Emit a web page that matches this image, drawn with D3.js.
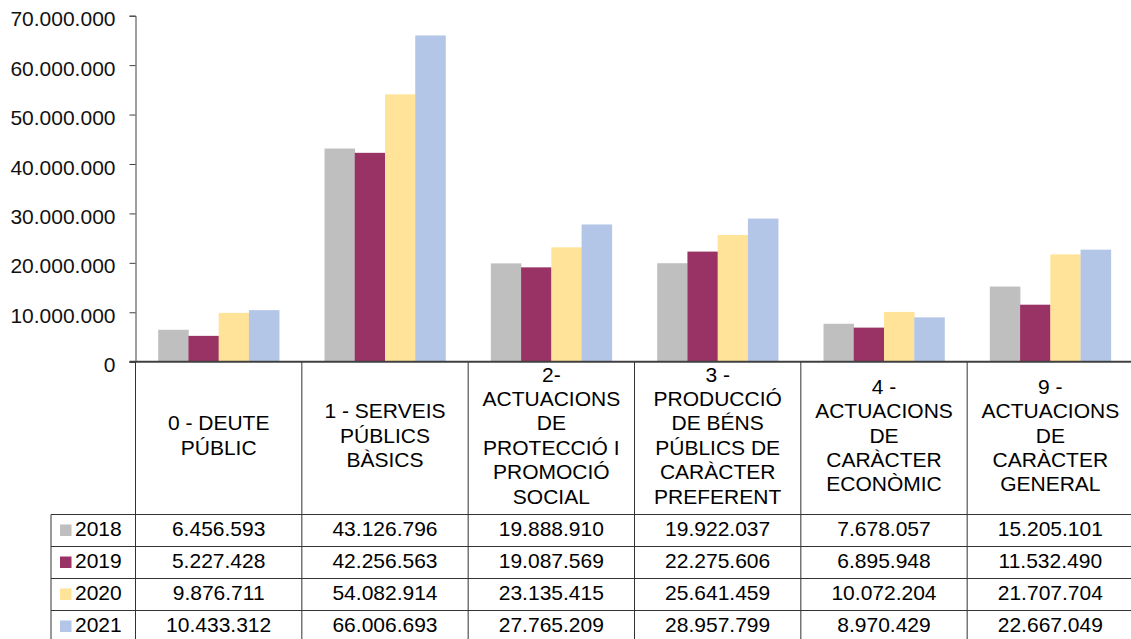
<!DOCTYPE html>
<html>
<head>
<meta charset="utf-8">
<script src="https://cdn.jsdelivr.net/npm/d3@7"></script>
<style>
  body { margin: 0; background: #fff; }
  svg { font-family: "Liberation Sans", Arial, sans-serif; }
</style>
</head>
<body>
<div id="chart"></div>
<script>
// data
var categories = [
  "0 - DEUTE PÚBLIC",
  "1 - SERVEIS PÚBLICS BÀSICS",
  "2- ACTUACIONS DE PROTECCIÓ I PROMOCIÓ SOCIAL",
  "3 - PRODUCCIÓ DE BÉNS PÚBLICS DE CARÀCTER PREFERENT",
  "4 - ACTUACIONS DE CARÀCTER ECONÒMIC",
  "9 - ACTUACIONS DE CARÀCTER GENERAL"
];
var years = ["2018", "2019", "2020", "2021"];
var values2018 = [6456593, 43126796, 19888910, 19922037, 7678057, 15205101];
var values2019 = [5227428, 42256563, 19087569, 22275606, 6895948, 11532490];
var values2020 = [9876711, 54082914, 23135415, 25641459, 10072204, 21707704];
var values2021 = [10433312, 66006693, 27765209, 28957799, 8970429, 22667049];
var yTicks = [0, 10000000, 20000000, 30000000, 40000000, 50000000, 60000000, 70000000];

var series = [values2018, values2019, values2020, values2021];
var colors = ["#bfbfbf", "#993366", "#ffe399", "#b4c6e7"];

// layout (plotTop: "top" is taken by window.top)
var W = 1131, H = 639;
var plotLeft = 135.5, plotRight = 1133.5, plotTop = 15.7, base = 361.7;
var headerBottom = 514.5, rowH = 32, legendLeft = 51;

var locale = d3.formatLocale({decimal: ",", thousands: ".", grouping: [3], currency: ["", "€"]});
var fmt = locale.format(",d");

var svg = d3.select("#chart").append("svg")
    .attr("width", W)
    .attr("height", H);

var x = d3.scaleBand()
    .domain(categories)
    .range([plotLeft, plotRight]);

var bw = x.bandwidth();
var inset = bw * 0.75 / 5.5;
var x1 = d3.scaleBand()
    .domain(years)
    .range([inset, bw - inset]);

var y = d3.scaleLinear()
    .domain([0, 70000000])
    .range([base, plotTop]);

// bars
var groups = svg.selectAll(".cat")
    .data(categories)
    .enter().append("g")
    .attr("class", "cat")
    .attr("transform", function(d) { return "translate(" + x(d) + ",0)"; });

groups.selectAll("rect")
    .data(function(d, i) { return years.map(function(yr, j) { return {year: yr, value: series[j][i]}; }); })
    .enter().append("rect")
    .attr("x", function(d) { return x1(d.year); })
    .attr("width", x1.bandwidth() + 0.3)
    .attr("y", function(d) { return y(d.value); })
    .attr("height", function(d) { return base - y(d.value); })
    .style("fill", function(d, j) { return colors[j]; });

// y axis
var yAxis = svg.append("g")
    .attr("transform", "translate(" + plotLeft + ",0)")
    .call(d3.axisLeft(y).tickValues(yTicks).tickFormat(fmt).tickSize(6).tickPadding(14));
yAxis.select(".domain").attr("stroke", "#404040");
yAxis.selectAll(".tick line").attr("stroke", "#404040");
yAxis.selectAll(".tick text")
    .attr("dy", "0.48em")
    .style("font-size", "21px")
    .style("fill", "#111")
    .style("font-family", "\"Liberation Sans\", Arial, sans-serif");

// table lines
var tableBottom = headerBottom + rowH * 4;
var bounds = categories.map(function(c) { return x(c); }).concat([plotRight]);
svg.selectAll(".vline")
    .data(bounds)
    .enter().append("line")
    .attr("x1", function(d) { return d; })
    .attr("x2", function(d) { return d; })
    .attr("y1", base)
    .attr("y2", tableBottom + 2)
    .attr("stroke", "#333")
    .attr("stroke-width", 1);

svg.append("line")
    .attr("x1", legendLeft).attr("x2", legendLeft)
    .attr("y1", headerBottom).attr("y2", tableBottom + 2)
    .attr("stroke", "#333");

svg.selectAll(".hline")
    .data(d3.range(5))
    .enter().append("line")
    .attr("x1", legendLeft)
    .attr("x2", plotRight)
    .attr("y1", function(i) { return headerBottom + i * rowH; })
    .attr("y2", function(i) { return headerBottom + i * rowH; })
    .attr("stroke", "#333")
    .attr("stroke-width", 1);

// x axis line
svg.append("line")
    .attr("x1", plotLeft - 6).attr("x2", plotRight)
    .attr("y1", base).attr("y2", base)
    .attr("stroke", "#404040")
    .attr("stroke-width", 2);

// category labels, wrapped
var lineH = 24.4, wrapW = 145;
var labels = svg.selectAll(".catlabel")
    .data(categories)
    .enter().append("text")
    .attr("class", "catlabel")
    .attr("text-anchor", "middle")
    .style("font-size", "21px")
    .style("fill", "#000");

labels.each(function(d) {
    var t = d3.select(this);
    var words = d.split(" ");
    var lines = [], cur = [];
    var probe = t.append("tspan");
    words.forEach(function(w) {
        var test = cur.concat([w]).join(" ");
        probe.text(test);
        if (cur.length && probe.node().getComputedTextLength() > wrapW) {
            lines.push(cur.join(" "));
            cur = [w];
        } else {
            cur.push(w);
        }
    });
    lines.push(cur.join(" "));
    probe.remove();
    var cx = x(d) + bw / 2;
    var first = 442.5 - (lines.length - 1) / 2 * lineH;
    lines.forEach(function(l, k) {
        t.append("tspan")
            .attr("x", cx)
            .attr("y", first + k * lineH)
            .text(l);
    });
});

// table values
years.forEach(function(yr, j) {
    var rowTop = headerBottom + j * rowH;
    svg.append("rect")
        .attr("x", 60)
        .attr("y", rowTop + 10)
        .attr("width", 11.5)
        .attr("height", 11.5)
        .style("fill", colors[j]);
    svg.append("text")
        .attr("x", 75)
        .attr("y", rowTop + 21)
        .style("font-size", "21px")
        .text(yr);
    svg.selectAll(".val" + yr)
        .data(series[j])
        .enter().append("text")
        .attr("x", function(d, i) { return x(categories[i]) + bw / 2; })
        .attr("y", rowTop + 21)
        .attr("text-anchor", "middle")
        .style("font-size", "21px")
        .text(function(d) { return fmt(d); });
});
</script>
</body>
</html>
